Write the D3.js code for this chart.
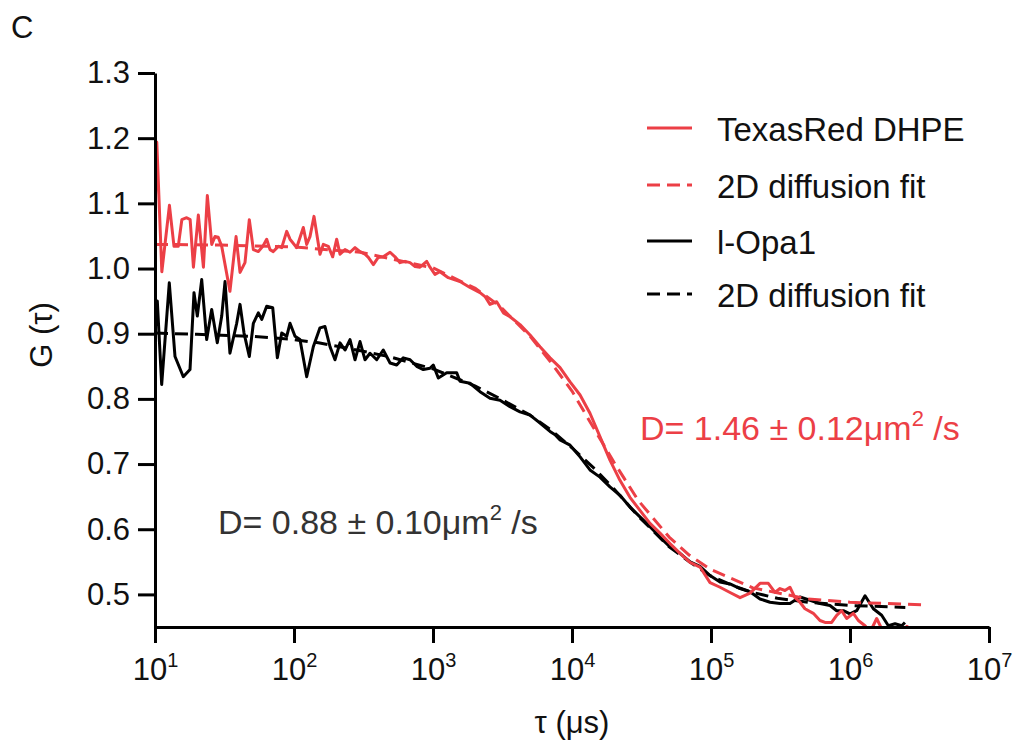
<!DOCTYPE html>
<html>
<head>
<meta charset="utf-8">
<script src="https://cdn.jsdelivr.net/npm/d3@7"></script>
<style>
  html, body { margin: 0; padding: 0; background: #fff; }
  svg { display: block; font-family: "Liberation Sans", Arial, sans-serif; }
</style>
</head>
<body>
<svg id="chart" width="1018" height="746"></svg>
<script>
// ---------------- data ----------------
const xTicks = [1e1, 1e2, 1e3, 1e4, 1e5, 1e6, 1e7];
const xTickExp = ["1", "2", "3", "4", "5", "6", "7"];
const yTicks = [0.5, 0.6, 0.7, 0.8, 0.9, 1.0, 1.1, 1.2, 1.3];

const legendLabels = ["TexasRed DHPE", "2D diffusion fit", "l-Opa1", "2D diffusion fit"];

// [tau (µs), G(tau)]
const texasRed = [
  [10,1.080],[10.3,1.194],[11.2,0.995],[12.7,1.097],[13.7,1.034],[14.7,1.034],[15.6,1.075],[16.9,1.078],
  [17.9,1.075],[18.9,1.002],[20.5,1.082],[22.3,1.002],[23.8,1.112],[25.6,1.037],[27.0,1.049],[28.5,1.048],
  [30.2,1.034],[34.6,0.965],[38.3,1.049],[40.9,0.994],[44.4,1.009],[47.7,1.075],[51.0,1.029],[55.4,1.026],
  [59.6,1.034],[63.6,1.045],[67.2,1.029],[71.0,1.026],[77.1,1.034],[81.6,1.032],[88.6,1.057],[93.6,1.045],
  [104.5,1.032],[116.7,1.063],[123.4,1.037],[130.3,1.049],[139.3,1.080],[153.8,1.022],[162.5,1.037],[176.6,1.034],
  [189.8,1.018],[202.9,1.045],[214.3,1.022],[232.8,1.029],[252.9,1.025],[274.8,1.032],[298.5,1.026],[324.3,1.022],
  [342.8,1.017],[372.4,1.006],[403.6,1.017],[438.5,1.018],[491,1.025],[533,1.018],[579,1.009],[629,1.011],
  [684,1.009],[743,1.003],[806,1.002],[901,1.011],[951,1.002],[1033,0.991],[1122,0.995],[1288,0.986],
  [1563,0.980],[1846,0.971],[2179,0.963],[2366,0.957],[2570,0.945],[2871,0.949],[3206,0.932],[3581,0.926],
  [4227,0.914],[4989,0.898],[5888,0.880],[6950,0.863],[8203,0.848],[9682,0.826],[11430,0.806],[13470,0.778],
  [15890,0.742],[18750,0.706],[22130,0.675],[26120,0.649],[30830,0.629],[36390,0.609],[42950,0.594],[50700,0.578],
  [59840,0.563],[70630,0.549],[83370,0.542],[98400,0.518],[116100,0.511],[137000,0.503],[161800,0.495],[190900,0.502],
  [225300,0.517],[258400,0.517],[288600,0.503],[313400,0.509],[340400,0.506],[369800,0.511],[401800,0.495],[436500,0.488],
  [474300,0.478],[544500,0.471],[608100,0.460],[660700,0.457],[737900,0.457],[801700,0.468],[871000,0.475],[946200,0.463],
  [1057000,0.471],[1148000,0.460],[1283000,0.452],[1393000,0.442],[1556000,0.463],[1738000,0.442],[2109000,0.430],
  [2570000,0.451],[2940000,0.442]
];

const texasRedFit = [
  [10,1.037],[30,1.036],[100,1.033],[300,1.025],[1000,1.001],[2000,0.970],[3000,0.943],[5000,0.896],
  [7000,0.857],[10000,0.812],[15000,0.748],[20000,0.703],[30000,0.644],[50000,0.588],[70000,0.560],
  [100000,0.538],[200000,0.510],[500000,0.493],[1000000,0.488],[3300000,0.484]
];

const lOpa1 = [
  [10,0.901],[10.39,0.950],[11.17,0.822],[12.67,0.978],[13.93,0.865],[15.98,0.834],[17.86,0.845],[19.08,0.963],
  [20.16,0.927],[21.68,0.983],[23.54,0.891],[25.58,0.937],[28.06,0.886],[30.2,0.927],[31.9,0.980],[34.6,0.870],
  [38.7,0.916],[40.9,0.945],[43.7,0.901],[47.7,0.865],[51.0,0.916],[55.4,0.932],[58.6,0.922],[63.6,0.942],
  [70.3,0.940],[75.9,0.863],[81.6,0.901],[88.6,0.896],[93.6,0.916],[101.7,0.896],[110.4,0.891],[123.4,0.834],
  [137.7,0.880],[153.8,0.909],[167.1,0.911],[181.6,0.880],[197.2,0.860],[214.3,0.886],[232.8,0.875],[252.9,0.891],
  [274.8,0.860],[298.5,0.888],[324.3,0.860],[352.3,0.870],[393.6,0.860],[438.5,0.875],[491,0.855],[548,0.852],
  [611,0.863],[684,0.860],[763,0.850],[852,0.845],[951,0.847],[1005,0.852],[1092,0.832],[1255,0.840],
  [1481,0.840],[1563,0.827],[1846,0.824],[2179,0.811],[2570,0.801],[3034,0.798],[3581,0.788],[4227,0.780],
  [4989,0.775],[5888,0.763],[6950,0.750],[7551,0.745],[8203,0.737],[9682,0.729],[11430,0.711],[13470,0.691],
  [15890,0.680],[18750,0.665],[22130,0.652],[26120,0.634],[30830,0.619],[36390,0.604],[42950,0.588],[50700,0.573],
  [59840,0.563],[70630,0.550],[83370,0.543],[98400,0.529],[116100,0.519],[137000,0.516],[161800,0.509],[190900,0.504],
  [225300,0.493],[265700,0.488],[313400,0.486],[369800,0.486],[436500,0.496],[515300,0.491],[608100,0.486],[717800,0.483],
  [801700,0.475],[895400,0.475],[1000000,0.470],[1117000,0.475],[1283000,0.498],[1472000,0.478],[1690000,0.468],
  [1888000,0.452],[2109000,0.455],[2356000,0.452],[2484000,0.457]
];

const lOpa1Fit = [
  [10,0.901],[20,0.899],[50,0.896],[100,0.891],[150,0.886],[200,0.881],[300,0.874],[500,0.864],
  [1000,0.846],[2000,0.820],[3000,0.801],[5000,0.775],[7000,0.753],[10000,0.725],[15000,0.690],
  [20000,0.662],[30000,0.620],[50000,0.573],[70000,0.550],[100000,0.528],[150000,0.512],[200000,0.503],
  [300000,0.494],[500000,0.488],[1000000,0.483],[2500000,0.480]
];

// ---------------- drawing ----------------
const RED = "#EC3F46";
const svg = d3.select("#chart");
const mLeft = 155, mRight = 989, mTop = 73, mBottom = 627;

const x = d3.scaleLog().domain([1e1, 1e7]).range([mLeft, mRight]);
const y = d3.scaleLinear().domain([0.45, 1.3]).range([mBottom, mTop]);

svg.append("defs").append("clipPath").attr("id", "plotclip")
  .append("rect").attr("x", mLeft).attr("y", 40).attr("width", mRight - mLeft).attr("height", mBottom - 40);

const line = d3.line().x(d => x(d[0])).y(d => y(d[1]));

const plot = svg.append("g").attr("clip-path", "url(#plotclip)");
const series = [
  { data: lOpa1, color: "#000", dash: null },
  { data: lOpa1Fit, color: "#000", dash: "13,7" },
  { data: texasRed, color: RED, dash: null },
  { data: texasRedFit, color: RED, dash: "13,7" }
];
series.forEach(s => {
  plot.append("path").datum(s.data)
    .attr("d", line)
    .attr("fill", "none")
    .attr("stroke", s.color)
    .attr("stroke-width", 3)
    .attr("stroke-linejoin", "round")
    .attr("stroke-dasharray", s.dash);
});

// Y axis
const yAxis = svg.append("g").attr("transform", `translate(${mLeft},0)`)
  .call(d3.axisLeft(y).tickValues(yTicks).tickSize(17).tickSizeOuter(0).tickPadding(8)
    .tickFormat(d3.format(".1f")));
yAxis.select(".domain").attr("stroke", "#000").attr("stroke-width", 3);
yAxis.selectAll(".tick line").attr("stroke", "#000").attr("stroke-width", 3);
yAxis.selectAll(".tick text").attr("font-size", 31).attr("fill", "#111")
  .attr("font-family", "Liberation Sans, Arial, sans-serif");

// X axis
const xAxis = svg.append("g").attr("transform", `translate(0,${mBottom})`)
  .call(d3.axisBottom(x).tickValues(xTicks).tickSize(16).tickSizeOuter(0).tickFormat(() => ""));
xAxis.select(".domain").attr("stroke", "#000").attr("stroke-width", 3);
xAxis.selectAll(".tick line").attr("stroke", "#000").attr("stroke-width", 3);
xAxis.selectAll(".tick text").each(function(d, i) {
  const t = d3.select(this).text(null)
    .attr("y", 53).attr("dy", 0)
    .attr("font-size", 31).attr("fill", "#111")
    .attr("font-family", "Liberation Sans, Arial, sans-serif");
  t.append("tspan").text("10");
  t.append("tspan").attr("font-size", 20).attr("dy", -13).text(xTickExp[i]);
});

// Axis titles
svg.append("text").attr("x", 572).attr("y", 733).attr("text-anchor", "middle")
  .attr("font-size", 31).attr("fill", "#111").text("τ (μs)");
svg.append("text").attr("transform", "translate(52,335) rotate(-90)").attr("text-anchor", "middle")
  .attr("font-size", 31).attr("fill", "#111").text("G (τ)");

// Panel letter
svg.append("text").attr("x", 11).attr("y", 38).attr("font-size", 31).attr("fill", "#111").text("C");

// Legend
const legendRows = [
  { y: 128, color: RED, dash: null },
  { y: 185, color: RED, dash: "13,7" },
  { y: 241, color: "#000", dash: null },
  { y: 294, color: "#000", dash: "13,7" }
];
legendRows.forEach((r, i) => {
  svg.append("line").attr("x1", 647).attr("x2", 692).attr("y1", r.y).attr("y2", r.y)
    .attr("stroke", r.color).attr("stroke-width", 3).attr("stroke-dasharray", r.dash);
  svg.append("text").attr("x", 717).attr("y", r.y + 13).attr("font-size", 33).attr("fill", "#111")
    .text(legendLabels[i]);
});

// Annotations
function annot(xp, yp, color, main) {
  const t = svg.append("text").attr("x", xp).attr("y", yp).attr("font-size", 34).attr("fill", color);
  t.append("tspan").text(main);
  t.append("tspan").attr("font-size", 22).attr("dy", -14).text("2");
  t.append("tspan").attr("dy", 14).text(" /s");
}
annot(640, 440, RED, "D= 1.46 ± 0.12μm");
annot(218, 534, "#333", "D= 0.88 ± 0.10μm");
</script>
</body>
</html>
